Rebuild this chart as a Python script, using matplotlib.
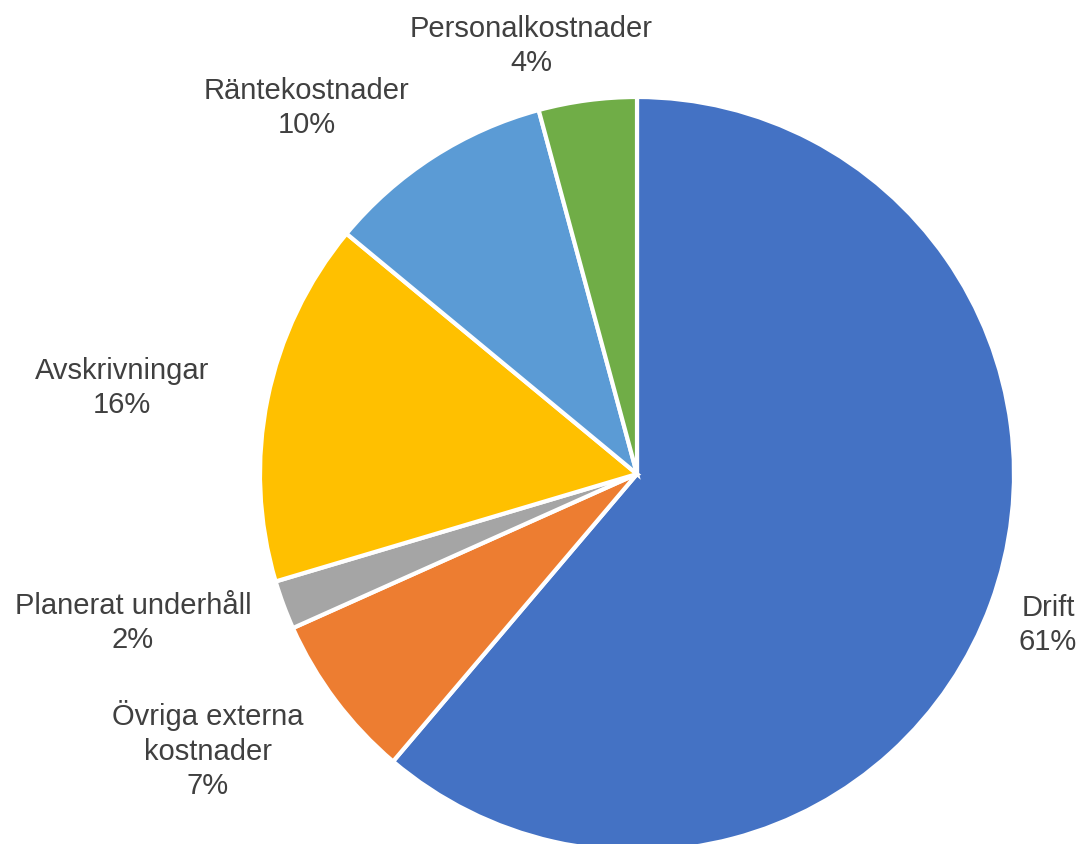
import matplotlib.pyplot as plt

# ── DATA ─────────────────────────────────────────────
categories = ['Drift', 'Övriga externa\nkostnader', 'Planerat underhåll',
              'Avskrivningar', 'Räntekostnader', 'Personalkostnader']
shares = [61.2, 7.1, 2.1, 15.6, 9.8, 4.2]
colors = ['#4472C4', '#ED7D31', '#A5A5A5', '#FFC000', '#5B9BD5', '#70AD47']

# label anchor points (pixels from top-left)
label_pos = [(1048, 625), (208, 750), (133, 623), (122, 388), (307, 108), (531, 46)]

W, H = 1084, 844
fig = plt.figure(figsize=(W / 100, H / 100), dpi=100)
ax = fig.add_axes([0, 0, 1, 1])
ax.axis('off')

ax.pie(shares, colors=colors, startangle=90, counterclock=False,
       center=(637, H - 474), radius=377,
       wedgeprops=dict(edgecolor='white', linewidth=3))
ax.set_xlim(0, W)
ax.set_ylim(0, H)
ax.set_aspect('equal')

for name, val, (x, y) in zip(categories, shares, label_pos):
    ax.text(x, H - y, f'{name}\n{val:.0f}%', ha='center', va='center',
            fontsize=21, color='#404040', family='Liberation Sans',
            linespacing=1.28)

fig.savefig('out.png', dpi=100, facecolor='white')
